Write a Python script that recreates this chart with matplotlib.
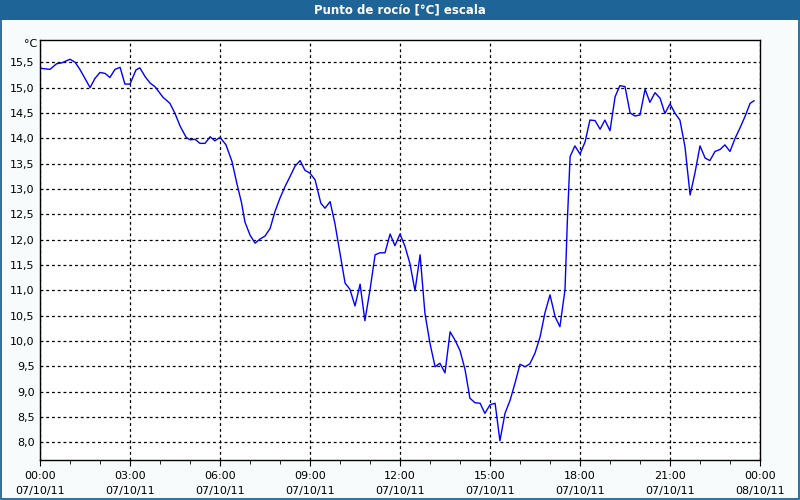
import matplotlib
matplotlib.use("Agg")
import matplotlib.pyplot as plt
from matplotlib.patches import Rectangle
from matplotlib.ticker import FuncFormatter, MultipleLocator

# dew point readings, hours since 07/10/11 00:00
hours = [0.05, 0.33, 0.55, 0.73, 1.0, 1.17, 1.33, 1.67, 1.83, 2.0, 2.17, 2.33, 2.5, 2.67,
         2.83, 3.0, 3.2, 3.33, 3.5, 3.67, 3.83, 4.1, 4.33, 4.5, 4.67, 4.87, 5.0, 5.17,
         5.33, 5.5, 5.67, 5.83, 6.0, 6.2, 6.4, 6.55, 6.72, 6.83, 7.0, 7.17, 7.33, 7.5,
         7.67, 7.83, 8.0, 8.17, 8.33, 8.5, 8.67, 8.83, 9.0, 9.17, 9.28, 9.36, 9.5, 9.67,
         9.83, 10.0, 10.17, 10.33, 10.5, 10.67, 10.83, 11.0, 11.17, 11.33, 11.5, 11.67,
         11.83, 12.0, 12.17, 12.33, 12.5, 12.67, 12.83, 13.0, 13.17, 13.33, 13.5, 13.67,
         13.83, 14.0, 14.17, 14.33, 14.5, 14.67, 14.83, 15.0, 15.17, 15.33, 15.5, 15.67,
         15.83, 16.0, 16.17, 16.33, 16.5, 16.67, 16.83, 17.0, 17.17, 17.33, 17.5, 17.58,
         17.67, 17.83, 18.0, 18.17, 18.33, 18.5, 18.67, 18.83, 19.0, 19.17, 19.33, 19.5,
         19.67, 19.83, 20.0, 20.17, 20.33, 20.5, 20.67, 20.83, 21.0, 21.17, 21.33, 21.5,
         21.67, 21.83, 22.0, 22.17, 22.33, 22.5, 22.67, 22.83, 23.0, 23.17, 23.33, 23.5,
         23.67, 23.8]
dew_point = [15.38, 15.36, 15.47, 15.49, 15.56, 15.50, 15.36, 15.00, 15.18, 15.30, 15.28,
             15.20, 15.36, 15.40, 15.07, 15.07, 15.35, 15.39, 15.22, 15.09, 15.02, 14.81,
             14.69, 14.49, 14.24, 14.02, 13.97, 13.98, 13.90, 13.90, 14.03, 13.95, 14.02,
             13.87, 13.54, 13.14, 12.72, 12.35, 12.09, 11.93, 12.01, 12.07, 12.22, 12.55,
             12.82, 13.05, 13.24, 13.45, 13.56, 13.37, 13.31, 13.18, 12.91, 12.72, 12.62,
             12.75, 12.32, 11.73, 11.14, 11.02, 10.69, 11.12, 10.40, 11.01, 11.70, 11.74,
             11.74, 12.11, 11.88, 12.11, 11.86, 11.53, 10.99, 11.70, 10.55, 9.95, 9.49,
             9.56, 9.37, 10.18, 10.02, 9.81, 9.43, 8.87, 8.78, 8.77, 8.57, 8.74, 8.77,
             8.03, 8.57, 8.83, 9.16, 9.54, 9.49, 9.55, 9.76, 10.08, 10.55, 10.91, 10.48,
             10.28, 11.01, 12.39, 13.64, 13.85, 13.69, 13.93, 14.36, 14.35, 14.18, 14.36,
             14.15, 14.82, 15.04, 15.02, 14.50, 14.44, 14.46, 14.97, 14.71, 14.90, 14.79,
             14.49, 14.68, 14.49, 14.36, 13.83, 12.88, 13.31, 13.85, 13.61, 13.56, 13.74,
             13.78, 13.87, 13.74, 14.00, 14.20, 14.43, 14.69, 14.74]

tick_hours = [0, 3, 6, 9, 12, 15, 18, 21, 24]
tick_labels = ["00:00\n07/10/11", "03:00\n07/10/11", "06:00\n07/10/11", "09:00\n07/10/11",
               "12:00\n07/10/11", "15:00\n07/10/11", "18:00\n07/10/11", "21:00\n07/10/11",
               "00:00\n08/10/11"]

fig = plt.figure(figsize=(8, 5), dpi=100, facecolor="#f8fbfb")
ax = fig.add_axes([0.05, 0.08, 0.90, 0.84])
ax.set_facecolor("white")

ax.plot(hours, dew_point, color="#0000ff", lw=1)

ax.set_xlim(0, 24)
ax.set_ylim(7.65, 15.94)
ax.set_xticks(tick_hours)
ax.set_xticklabels(tick_labels, fontsize=8, linespacing=1.55)
ax.xaxis.set_minor_locator(MultipleLocator(1))
ax.yaxis.set_major_locator(MultipleLocator(0.5))
ax.yaxis.set_major_formatter(FuncFormatter(lambda v, p: f"{v:.1f}".replace(".", ",")))
ax.tick_params(axis="y", length=0, labelsize=8, pad=4)
ax.tick_params(axis="x", which="major", length=4, direction="out", pad=4)
ax.tick_params(axis="x", which="minor", length=3, direction="out")
ax.grid(True, which="major", color="black", linestyle=(0, (2.3, 2.3)), lw=0.9)
for s in ax.spines.values():
    s.set_color("black")
    s.set_linewidth(1)

fig.text(0.047, 0.912, "°C", fontsize=8, ha="right", va="center")

# header bar and window border
fig.patches.append(Rectangle((0, 0.96), 1, 0.04, transform=fig.transFigure,
                             facecolor="#1f6496", edgecolor="none", zorder=0))
fig.patches.append(Rectangle((0.0008, 0.002), 0.9984, 0.997, transform=fig.transFigure,
                             facecolor="none", edgecolor="#1f6496", lw=1.3, zorder=1))
fig.text(0.5, 0.98, "Punto de rocío [°C] escala", color="white", fontsize=8.5,
         fontweight="bold", ha="center", va="center")

fig.savefig("out.png", dpi=100, facecolor=fig.get_facecolor())
